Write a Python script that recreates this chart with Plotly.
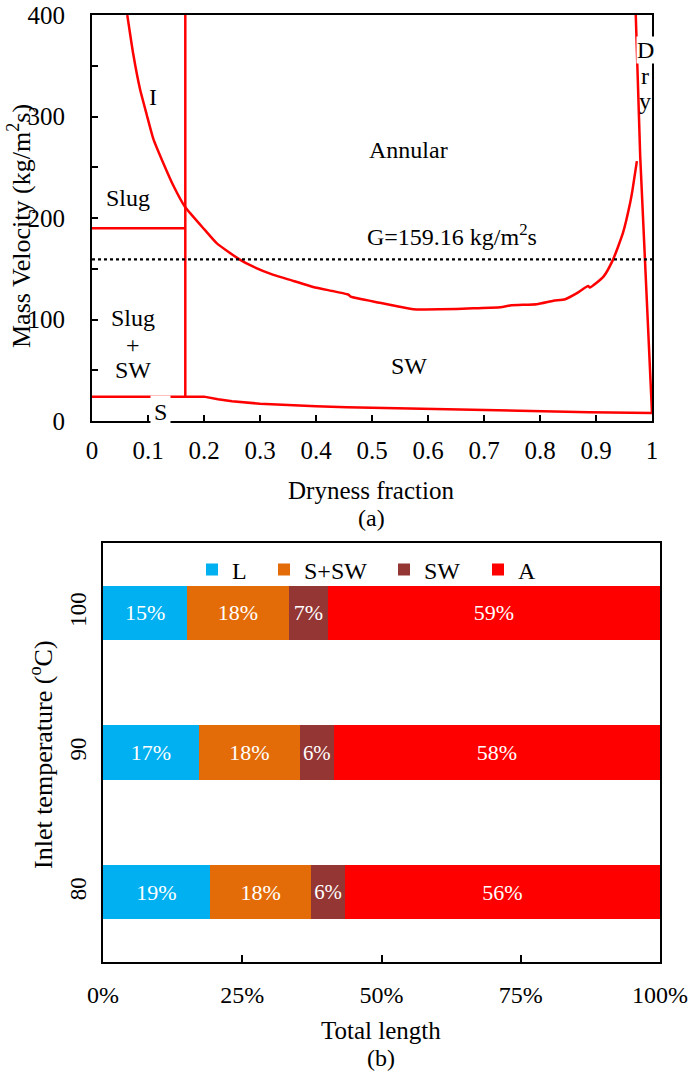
import plotly.graph_objects as go

# ---- (a) flow pattern map ----
# intermittent/annular transition
ia_x = [0.063, 0.0738, 0.0857, 0.0976, 0.1095, 0.1274, 0.1452, 0.166, 0.2018, 0.223,
        0.264, 0.288, 0.324, 0.36, 0.395, 0.43, 0.455, 0.458, 0.462, 0.514, 0.545,
        0.574, 0.621, 0.681, 0.729, 0.749, 0.794, 0.824, 0.845, 0.866, 0.886, 0.889,
        0.913, 0.93, 0.948, 0.961, 0.965, 0.973]
ia_g = [400, 361, 327, 302, 278, 254, 232, 211, 188, 175,
        159, 152, 144, 138, 132, 128, 125, 124.5, 122.5, 116.5, 113,
        110, 110, 111, 112, 114, 115, 118.4, 120, 126, 133, 131.5,
        142, 158.5, 185, 215, 227, 256]
# stratified / stratified-wavy transition
st_x = [0, 0.2, 0.225, 0.25, 0.3, 0.35, 0.4, 0.455, 0.574, 0.621, 0.729, 0.749, 0.888, 1.0]
st_g = [24, 24, 21.5, 19.5, 17, 15.5, 14.5, 13.5, 12, 11.5, 10.3, 10, 8.7, 8]
# dryout boundary
dry_x = [0.971, 0.979, 1.0]
dry_g = [400, 260, 8]
# intermittent / slug boundaries
xia = 0.1666
slug_g = 190
g_min = 24
g_max = 400
# operating mass velocity
G_op = 159.16

# ---- (b) flow pattern share of total length ----
temps = ["80", "90", "100"]
pattern_names = ["L", "S+SW", "SW", "A"]
pattern_colors = ["#00B0F0", "#E36C09", "#943634", "#FF0000"]
shares = {
    "L": [19, 17, 15],
    "S+SW": [18, 18, 18],
    "SW": [6, 6, 7],
    "A": [56, 58, 59],
}

SERIF = "Liberation Serif"
RED = "#FF0000"
W, H = 690, 1072

fig = go.Figure()

red_line = dict(color=RED, width=2.5)
fig.add_trace(go.Scatter(x=ia_x, y=ia_g, mode="lines",
                         line=dict(color=RED, width=2.5, shape="spline", smoothing=0.5),
                         showlegend=False, hoverinfo="skip", xaxis="x", yaxis="y"))
for xs, ys in [(st_x, st_g), (dry_x, dry_g),
               ([xia, xia], [g_min, g_max]), ([0, xia], [slug_g, slug_g])]:
    fig.add_trace(go.Scatter(x=xs, y=ys, mode="lines", line=red_line,
                             showlegend=False, hoverinfo="skip", xaxis="x", yaxis="y"))
fig.add_trace(go.Scatter(x=[0, 1], y=[G_op, G_op], mode="lines",
                         line=dict(color="black", width=2.2, dash="dot"),
                         showlegend=False, hoverinfo="skip", xaxis="x", yaxis="y"))

legend_ids = ["legend", "legend2", "legend3", "legend4"]
for name, col, lg in zip(pattern_names, pattern_colors, legend_ids):
    vals = shares[name]
    fig.add_trace(go.Bar(
        y=temps, x=vals, name=name, orientation="h",
        marker=dict(color=col, line=dict(width=0)),
        text=[f"{v}%" for v in vals], textposition="inside",
        insidetextanchor="middle", textangle=0,
        textfont=dict(family=SERIF, size=22, color="white"),
        xaxis="x2", yaxis="y2", legend=lg,
    ))


def px(xp):
    return xp / W


def py(yp):
    return 1 - yp / H


def axis_common(size):
    return dict(showline=True, linecolor="black", linewidth=2, mirror=True,
                showgrid=False, zeroline=False, automargin=False,
                tickfont=dict(family=SERIF, size=size, color="black"))


def legend_at(x_left):
    return dict(orientation="h", x=px(x_left), y=py(570), xanchor="left", yanchor="middle",
                font=dict(family=SERIF, size=24, color="black"),
                itemwidth=30, bgcolor="rgba(0,0,0,0)", borderwidth=0)


fig.update_layout(
    width=W, height=H,
    margin=dict(l=0, r=0, t=0, b=0, autoexpand=False),
    paper_bgcolor="white", plot_bgcolor="white",
    barmode="stack", barnorm="percent", bargap=0.61,
    xaxis=dict(domain=[px(92), px(652)], range=[0, 1], dtick=0.1,
               ticks="inside", ticklen=6, tickcolor="black", tickwidth=1.5,
               ticklabelstandoff=6, anchor="y", **axis_common(25)),
    yaxis=dict(domain=[py(421), py(15)], range=[0, 400], dtick=100,
               ticks="inside", ticklen=6, tickcolor="black", tickwidth=1.5,
               minor=dict(dtick=50, ticks="inside", ticklen=6, tickcolor="black", tickwidth=1.5),
               ticklabelstandoff=20, anchor="x", **axis_common(25)),
    xaxis2=dict(domain=[px(103), px(660)], range=[0, 100], tickvals=[0, 25, 50, 75, 100],
                ticktext=["0%", "25%", "50%", "75%", "100%"],
                ticks="inside", ticklen=7, tickcolor="black", tickwidth=1.5,
                ticklabelstandoff=10, anchor="y2", **axis_common(24)),
    yaxis2=dict(domain=[py(962), py(543)], ticks="", tickangle=-90,
                ticklabelstandoff=6, anchor="x2", **axis_common(23)),
    legend=legend_at(192),
    legend2=legend_at(264),
    legend3=legend_at(384),
    legend4=legend_at(478),
    showlegend=True,
)

ann_font = dict(family=SERIF, size=24, color="black")
region_labels = [
    dict(x=0.109, y=319, text="I"),
    dict(x=0.566, y=267, text="Annular"),
    dict(x=0.064, y=220, text="Slug"),
    dict(x=0.642, y=183, text="G=159.16 kg/m<sup>2</sup>s"),
    dict(x=0.073, y=101, text="Slug"),
    dict(x=0.073, y=75, text="+"),
    dict(x=0.073, y=50, text="SW"),
    dict(x=0.566, y=54, text="SW"),
    dict(x=0.9875, y=340, text="r"),
    dict(x=0.9875, y=315, text="y"),
]
for a in region_labels:
    fig.add_annotation(xref="x", yref="y", showarrow=False, font=ann_font, **a)

# labels sitting on top of a boundary line get a white box
fig.add_annotation(xref="x", yref="y", x=0.123, y=9.3, text="S", showarrow=False,
                   font=ann_font, bgcolor="white", borderpad=3)
fig.add_annotation(xref="x", yref="y", x=0.9875, y=366, text="D", showarrow=False,
                   font=ann_font, bgcolor="white", borderpad=0)

paper_texts = [
    dict(x=px(20), y=py(226), text="Mass Velocity (kg/m<sup>2</sup>s)", textangle=-90, size=26),
    dict(x=px(371), y=py(491), text="Dryness fraction", size=25),
    dict(x=px(371), y=py(518), text="(a)", size=24),
    dict(x=px(41), y=py(755), text="Inlet temperature (<sup>o</sup>C)", textangle=-90, size=26),
    dict(x=px(381), y=py(1030), text="Total length", size=25),
    dict(x=px(381), y=py(1058), text="(b)", size=24),
]
for a in paper_texts:
    size = a.pop("size")
    fig.add_annotation(xref="paper", yref="paper", showarrow=False,
                       font=dict(family=SERIF, size=size, color="black"),
                       xanchor="center", yanchor="middle", **a)

fig.write_html("out.html")
